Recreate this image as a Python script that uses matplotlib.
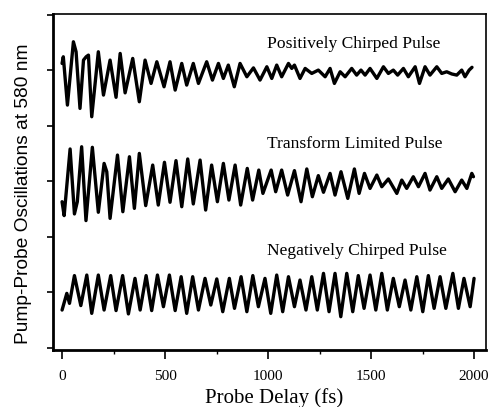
import numpy as np
import matplotlib.pyplot as plt

# extrema: delay (fs) and signal (offset units)
pos_x = [0, 6, 26, 55, 68, 87, 104, 117, 128, 144, 176, 201, 233, 262, 282, 306,
         343, 375, 403, 432, 460, 495, 524, 549, 581, 605, 637, 662, 702, 730,
         759, 783, 807, 836, 864, 897, 929, 961, 994, 1018, 1042, 1066, 1099,
         1115, 1128, 1155, 1180, 1212, 1244, 1277, 1301, 1322, 1350, 1374, 1406,
         1430, 1451, 1471, 1495, 1528, 1560, 1584, 1608, 1629, 1657, 1681, 1714,
         1735, 1762, 1786, 1819, 1843, 1867, 1892, 1916, 1940, 1956, 1976, 1990]
pos_y = [5.12, 5.24, 4.37, 5.51, 5.33, 4.31, 5.18, 5.24, 5.27, 4.16, 5.33, 4.55,
         5.18, 4.51, 5.30, 4.59, 5.21, 4.43, 5.18, 4.76, 5.15, 4.70, 5.15, 4.64,
         5.12, 4.73, 5.12, 4.76, 5.15, 4.82, 5.12, 4.85, 5.09, 4.70, 5.12, 4.88,
         5.04, 4.82, 5.06, 4.85, 5.09, 4.88, 5.12, 5.03, 5.09, 4.85, 5.03, 4.94,
         5.00, 4.88, 5.03, 4.76, 4.97, 4.88, 5.03, 4.91, 5.00, 4.91, 5.03, 4.85,
         5.06, 4.94, 5.00, 4.91, 5.03, 4.88, 5.06, 4.76, 5.06, 4.91, 5.06, 4.94,
         4.97, 4.93, 4.91, 5.00, 4.88, 5.00, 5.05]

tl_x = [0, 10, 39, 60, 74, 95, 116, 147, 176, 204, 217, 233, 269, 295, 327, 351,
        375, 406, 440, 467, 497, 524, 553, 581, 610, 637, 670, 697, 726, 754,
        783, 810, 840, 867, 899, 925, 955, 975, 1015, 1037, 1066, 1095, 1128,
        1160, 1188, 1215, 1244, 1269, 1301, 1325, 1354, 1387, 1419, 1442, 1468,
        1495, 1528, 1552, 1584, 1625, 1649, 1673, 1705, 1730, 1762, 1786, 1819,
        1843, 1875, 1908, 1940, 1965, 1989, 1997]
tl_y = [2.63, 2.38, 3.58, 2.41, 2.63, 3.62, 2.29, 3.61, 2.44, 3.32, 3.17, 2.33,
        3.47, 2.45, 3.44, 2.51, 3.50, 2.56, 3.29, 2.57, 3.34, 2.62, 3.37, 2.54,
        3.40, 2.59, 3.38, 2.48, 3.29, 2.63, 3.32, 2.66, 3.29, 2.57, 3.23, 2.66,
        3.20, 2.78, 3.20, 2.81, 3.20, 2.75, 3.19, 2.63, 3.22, 2.72, 3.10, 2.80,
        3.14, 2.75, 3.17, 2.69, 3.22, 2.78, 3.14, 2.87, 3.11, 2.90, 3.04, 2.78,
        3.02, 2.87, 3.08, 2.90, 3.14, 2.84, 3.08, 2.87, 3.04, 2.81, 3.02, 2.87,
        3.14, 3.08]

neg_x = [0, 23, 36, 60, 91, 120, 144, 176, 204, 236, 262, 294, 322, 354, 379,
         408, 435, 463, 492, 521, 549, 578, 605, 634, 662, 694, 722, 751, 780,
         812, 837, 869, 897, 926, 953, 985, 1013, 1042, 1071, 1099, 1128, 1155,
         1184, 1212, 1239, 1269, 1296, 1325, 1353, 1382, 1411, 1438, 1466, 1495,
         1523, 1552, 1579, 1608, 1637, 1665, 1693, 1722, 1751, 1778, 1806, 1835,
         1863, 1897, 1924, 1951, 1981, 2000]
neg_y = [0.68, 0.98, 0.80, 1.30, 0.76, 1.31, 0.62, 1.31, 0.68, 1.30, 0.67, 1.30,
         0.61, 1.25, 0.68, 1.30, 0.67, 1.31, 0.74, 1.31, 0.67, 1.28, 0.62, 1.28,
         0.68, 1.25, 0.77, 1.24, 0.65, 1.25, 0.71, 1.28, 0.65, 1.30, 0.74, 1.25,
         0.62, 1.31, 0.65, 1.28, 0.74, 1.22, 0.68, 1.28, 0.68, 1.34, 0.65, 1.34,
         0.56, 1.34, 0.65, 1.30, 0.71, 1.31, 0.68, 1.34, 0.68, 1.25, 0.74, 1.22,
         0.68, 1.28, 0.65, 1.30, 0.71, 1.28, 0.71, 1.34, 0.71, 1.25, 0.74, 1.25]

labels = ["Positively Chirped Pulse", "Transform Limited Pulse", "Negatively Chirped Pulse"]
label_y = [5.40, 3.595, 1.674]

serif = "Liberation Serif"

fig = plt.figure(figsize=(4.89, 4.07), dpi=100)
ax = fig.add_axes([0.1084, 0.140, 0.8855, 0.8256])

for xs, ys in [(pos_x, pos_y), (tl_x, tl_y), (neg_x, neg_y)]:
    ax.plot(xs, ys, color="black", lw=2.4, solid_joinstyle="round",
            solid_capstyle="round")

for txt, yy in zip(labels, label_y):
    ax.text(993, yy, txt, family=serif, fontsize=12.6, ha="left", va="baseline")

ax.set_xlim(-44, 2058)
ax.set_ylim(-0.04, 6.01)
ax.set_xticks([0, 500, 1000, 1500, 2000])
ax.set_xticks([250, 750, 1250, 1750], minor=True)
ax.set_yticks(np.arange(0, 7))
ax.set_yticklabels([])
ax.tick_params(axis="x", which="major", direction="out", length=6.5, width=1.2, pad=8)
ax.tick_params(axis="x", which="minor", direction="out", length=3, width=1.0)
ax.tick_params(axis="y", direction="out", length=4.3, width=1.2)
for lab in ax.get_xticklabels():
    lab.set_family(serif)
    lab.set_fontsize(11)

ax.spines["left"].set_linewidth(2.0)
ax.spines["bottom"].set_linewidth(2.0)
ax.spines["top"].set_linewidth(1.2)
ax.spines["right"].set_linewidth(1.2)

ax.set_xlabel("Probe Delay (fs)", family=serif, fontsize=15, va="baseline")
ax.xaxis.set_label_coords(0.51, -0.158)
ax.set_ylabel("Pump-Probe Oscillations at 580 nm", family="Liberation Sans",
              fontsize=13.8, va="center", ha="center")
ax.yaxis.set_label_coords(-0.067, 0.464)

fig.savefig("out.png", dpi=100)
